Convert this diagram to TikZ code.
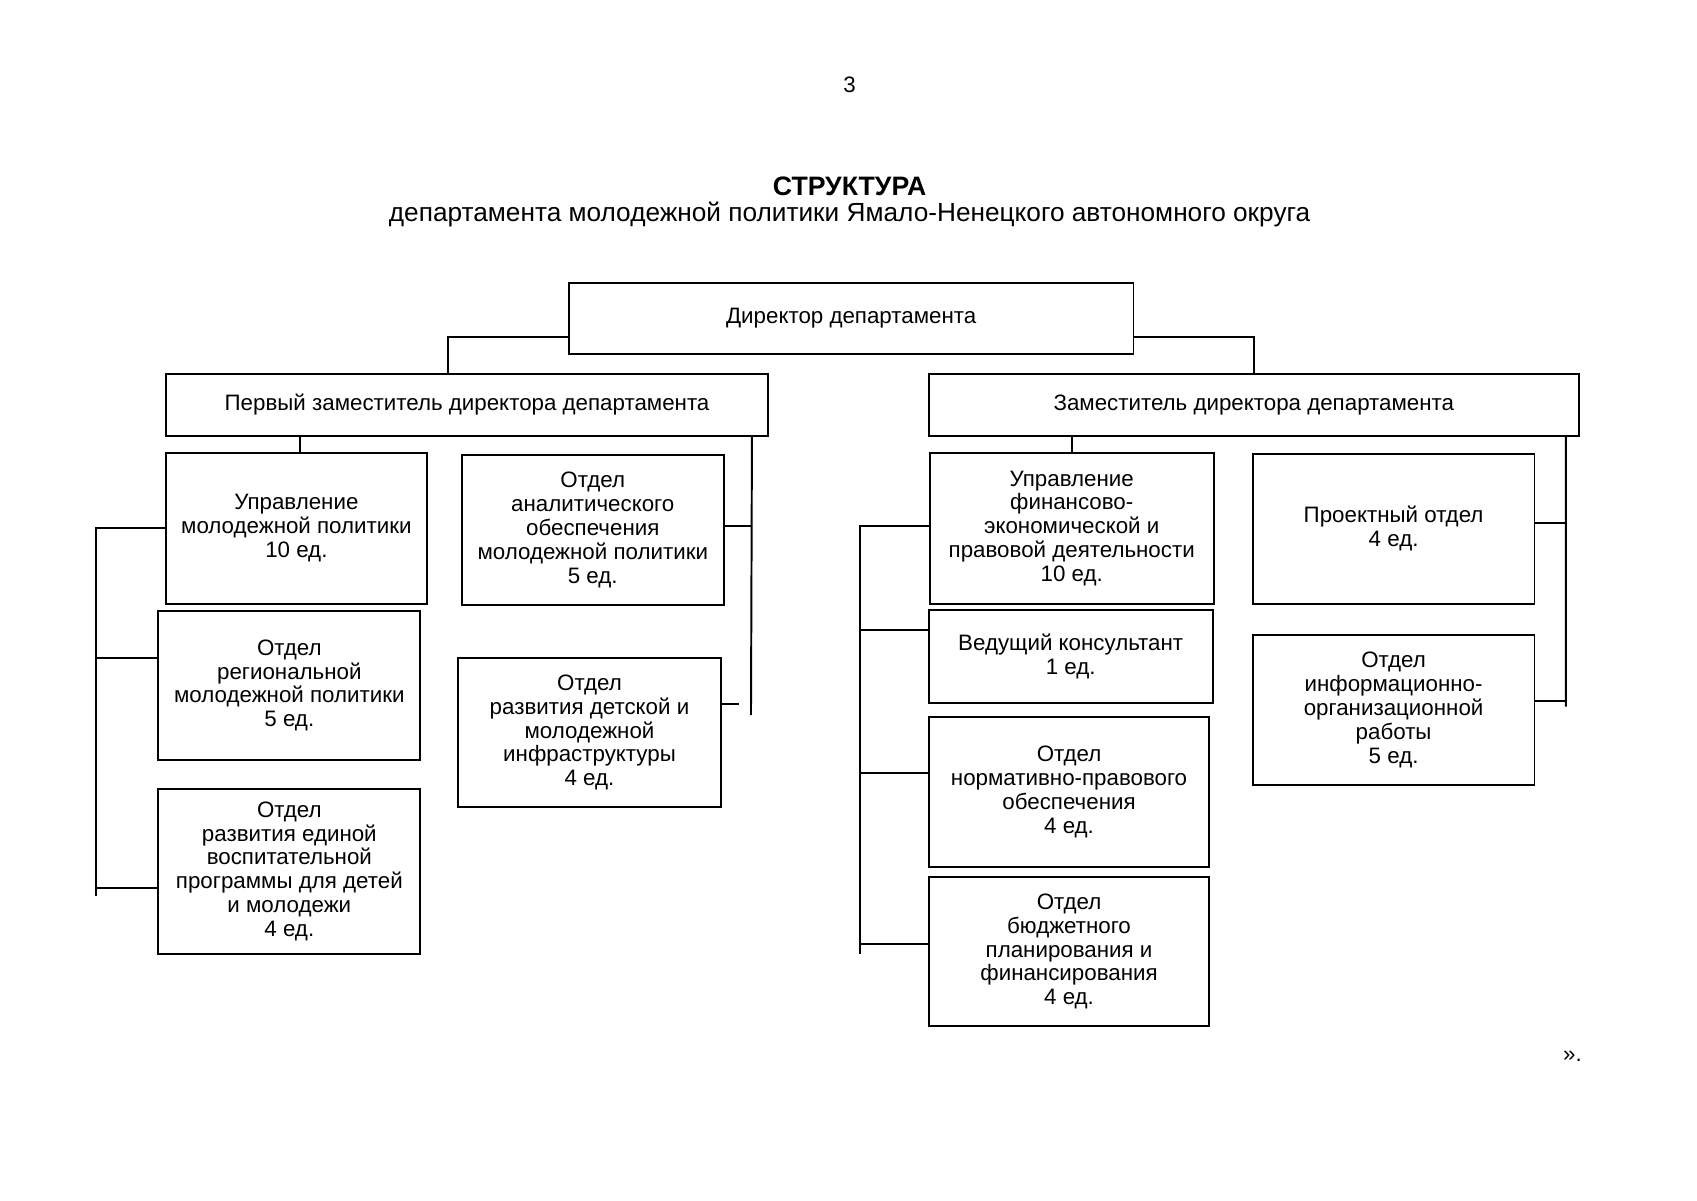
\documentclass[tikz,border=0pt]{standalone}
\usepackage{fontspec}
\setmainfont{Liberation Sans}
\usetikzlibrary{calc}
\begin{document}
\begin{tikzpicture}[x=0.5pt,y=-0.5pt,
  orgbox/.style={draw,line width=0.9pt,align=center,inner sep=0pt,font=\fontsize{10.3}{11}\selectfont},
  conn/.style={line width=0.9pt},
  plain/.style={inner sep=0pt,align=center}]
\useasboundingbox[fill=white] (0,0) rectangle (1566,1107.5);
% header
\node[plain,font=\fontsize{10.3}{12}\selectfont] (pnum) at (784,78) {3};
\node[plain,font=\bfseries\fontsize{12.3}{13}\selectfont] (title) at (784,172) {СТРУКТУРА};
\node[plain,font=\fontsize{12.1}{13}\selectfont] (subtitle) at (784,198) {департамента молодежной политики Ямало-Ненецкого автономного округа};
% top
\node[orgbox,minimum width=260.5pt,minimum height=33pt] (dir) at (785.5,294) {Директор департамента};
\node[orgbox,minimum width=278pt,minimum height=28.5pt] (fd) at (431,373.5) {Первый заместитель директора департамента};
\node[orgbox,minimum width=300pt,minimum height=28.5pt] (dep) at (1157,373.5) {Заместитель директора департамента};
% left group
\node[orgbox,minimum width=120.5pt,minimum height=69.5pt] (L1) at (273.5,487.5) {Управление\\молодежной политики\\10 ед.};
\node[orgbox,minimum width=121pt,minimum height=68.5pt] (L2) at (267,632.5) {Отдел\\региональной\\молодежной политики\\5 ед.};
\node[orgbox,minimum width=121pt,minimum height=76pt] (L3) at (267,804) {Отдел\\развития единой\\воспитательной\\программы для детей\\и молодежи\\4 ед.};
\node[orgbox,minimum width=121pt,minimum height=69pt] (M1) at (547,489) {Отдел\\аналитического\\обеспечения\\молодежной политики\\5 ед.};
\node[orgbox,minimum width=121pt,minimum height=69pt] (M2) at (544,676) {Отдел\\развития детской и\\молодежной\\инфраструктуры\\4 ед.};
% right group
\node[orgbox,minimum width=131pt,minimum height=69.5pt] (R1) at (989,487.5) {Управление\\финансово-\\экономической и\\правовой деятельности\\10 ед.};
\node[orgbox,minimum width=131pt,minimum height=43pt] (R2) at (988,606) {Ведущий консультант\\1 ед.};
\node[orgbox,minimum width=129.5pt,minimum height=69pt] (R3) at (986.5,731) {Отдел\\нормативно-правового\\обеспечения\\4 ед.};
\node[orgbox,minimum width=129.5pt,minimum height=69pt] (R4) at (986.5,878) {Отдел\\бюджетного\\планирования и\\финансирования\\4 ед.};
\node[orgbox,minimum width=130pt,minimum height=69pt] (P1) at (1286,488) {Проектный отдел\\4 ед.};
\node[orgbox,minimum width=130pt,minimum height=69pt] (P2) at (1286,655) {Отдел\\информационно-\\организационной\\работы\\5 ед.};
% closing mark
\node[plain,font=\fontsize{10.3}{12}\selectfont] (close) at (1451,975) {».};
% coordinates for bus ends
\coordinate (lbend) at (89,827);
\coordinate (mbot) at (693,660);
\coordinate (rbend) at (794,880);
\coordinate (pbot) at (1445,652);
% connectors from director
\draw[conn] ([yshift=8.5pt]dir.south west) -| ([xshift=130.5pt]fd.north west);
\draw[conn] ([yshift=8.5pt]dir.south east) -| (dep.north);
% left group
\draw[conn] ([xshift=1.75pt]L1.north |- fd.south) -- ([xshift=1.75pt]L1.north);
\draw[conn] (L1.west) -| (lbend);
\draw[conn] ([yshift=12.75pt]L2.west) -| (lbend);
\draw[conn] ([yshift=-7.5pt]L3.west) -| (lbend);
% middle bus
\draw[conn] ([xshift=-8pt]fd.south east) -- (mbot);
\draw[conn] ([yshift=2pt]M1.east) -- ([yshift=2pt]M1.east -| mbot);
\draw[conn] ([yshift=13pt]M2.east) -- ++(16,0);
% right group
\draw[conn] (R1.north |- dep.south) -- (R1.north);
\draw[conn] ([yshift=1.25pt]R1.west) -| (rbend);
\draw[conn] ([yshift=12.5pt]R2.west) -| (rbend);
\draw[conn] ([yshift=9pt]R3.west) -| (rbend);
\draw[conn] ([yshift=3.5pt]R4.west) -| (rbend);
% far right bus
\draw[conn] ([xshift=-6.5pt]dep.south east) -- (pbot);
\draw[conn] ([yshift=2.5pt]P1.east) -- ([yshift=2.5pt]P1.east -| pbot);
\draw[conn] ([yshift=4pt]P2.east) -- ([yshift=4pt]P2.east -| pbot);
\end{tikzpicture}
\end{document}
